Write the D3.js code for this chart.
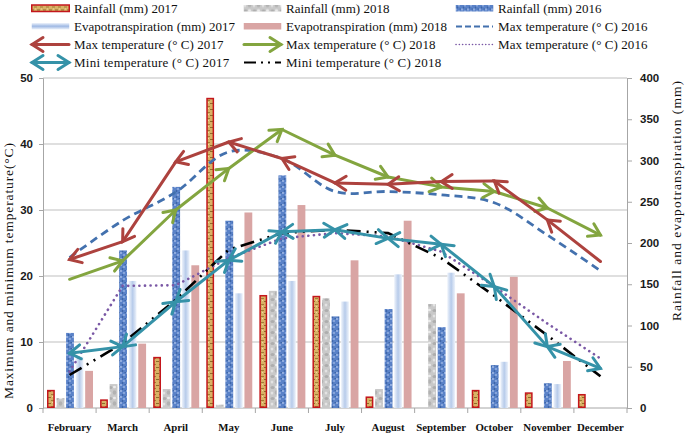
<!DOCTYPE html>
<html><head><meta charset="utf-8">
<script src="https://cdn.jsdelivr.net/npm/d3@7"></script>
<style>body{margin:0;background:#fff}svg{display:block}</style>
</head><body><script>
// ---------- DATA ----------
const months = ["February","March","April","May","June","July","August","September","October","November","December"];
const rain2017 = [22, 10.5, 62, 376, 137, 136, 14, 0, 22, 19, 17];
const rain2018 = [12, 29, 23, 4, 142, 133, 23, 126, 0, 0, 0];
const rain2016 = [91, 191, 268, 227, 282, 111, 120, 98, 52, 30, 0];
const et2017   = [62, 154, 191, 139, 154, 129, 162, 164, 56, 29, 0];
const et2018   = [45, 78, 173, 237, 246, 179, 227, 139, 159, 57, 0];
const max2017  = [22.5, 25.2, 37.3, 40.3, 37.8, 34.1, 33.9, 34.3, 34.4, 28.5, 22.2];
const max2018  = [19.5, 22.3, 30.0, 36.3, 42.2, 38.3, 35.0, 33.5, 32.8, 30.3, 26.2];
const max2016  = [22.8, 28.4, 32.7, 38.8, 37.8, 32.8, 32.8, 32.3, 31.1, 26.2, 20.8];
const max2016b = [5.5, 18.5, 18.6, 22.7, 25.7, 26.5, 26.0, 23.7, 18.4, 12.8, 7.5];
const min2017  = [8.3, 9.3, 16.1, 22.4, 26.7, 27.0, 25.7, 24.8, 18.4, 9.3, 6.0];
const min2018  = [5.0, 9.8, 16.4, 24.0, 26.5, 27.0, 26.5, 22.7, 17.0, 11.0, 4.8];
const leftTicks  = [0, 10, 20, 30, 40, 50];
const rightTicks = [0, 50, 100, 150, 200, 250, 300, 350, 400];

// ---------- SETUP ----------
const W = 685, H = 435;
const svg = d3.select("body").append("svg").attr("width", W).attr("height", H);
const defs = svg.append("defs");
const P = {left: 43, right: 627, top: 78, bottom: 408};
const x = d3.scaleBand().domain(months).range([P.left, P.right]);
const yT = d3.scaleLinear().domain([0, 50]).range([P.bottom, P.top]);
const yR = d3.scaleLinear().domain([0, 400]).range([P.bottom, P.top]);
const barKeys = ["r2017","r2018","r2016","et2017","et2018"];
const xs = d3.scaleBand().domain(barKeys).range([4, 50]).paddingInner(0.18);
const cx = m => x(m) + x.bandwidth() / 2;
const SERIF = "'Liberation Serif', 'Times New Roman', serif";

// patterns
function pat(id, w, h, bg, build) {
  const p = defs.append("pattern").attr("id", id).attr("patternUnits", "userSpaceOnUse")
    .attr("width", w).attr("height", h);
  p.append("rect").attr("width", w).attr("height", h).attr("fill", bg);
  build(p);
}
pat("pR17", 6, 6, "#D8B265", p => {
  p.append("rect").attr("x", 0).attr("y", 1).attr("width", 3).attr("height", 1).attr("fill", "#8E6B2A");
  p.append("rect").attr("x", 3).attr("y", 4).attr("width", 3).attr("height", 1).attr("fill", "#A27C35");
  p.append("rect").attr("x", 4).attr("y", 0).attr("width", 1).attr("height", 1).attr("fill", "#F0D9A0");
});
pat("pR18", 9, 11, "#C9C9C9", p => {
  p.append("ellipse").attr("cx", 2.5).attr("cy", 2.5).attr("rx", 2).attr("ry", 1.5).attr("fill", "#9B9B9B").attr("opacity", 0.6);
  p.append("ellipse").attr("cx", 6.5).attr("cy", 7.5).attr("rx", 1.8).attr("ry", 2.2).attr("fill", "#A3A3A3").attr("opacity", 0.6);
  p.append("ellipse").attr("cx", 6.5).attr("cy", 2).attr("rx", 1.5).attr("ry", 1.2).attr("fill", "#EFEFEF").attr("opacity", 0.9);
  p.append("ellipse").attr("cx", 2).attr("cy", 8).attr("rx", 1.3).attr("ry", 1.6).attr("fill", "#E6E6E6").attr("opacity", 0.9);
});
pat("pR16", 6, 6, "#5A82C8", p => {
  p.append("circle").attr("cx", 1).attr("cy", 1).attr("r", 0.9).attr("fill", "#A9C0EA");
  p.append("circle").attr("cx", 4).attr("cy", 3).attr("r", 0.9).attr("fill", "#9DB6E4");
  p.append("circle").attr("cx", 2.5).attr("cy", 5).attr("r", 0.8).attr("fill", "#2F5596");
  p.append("circle").attr("cx", 5.2).attr("cy", 0.5).attr("r", 0.7).attr("fill", "#36609F");
});
const g1 = defs.append("linearGradient").attr("id", "gET17").attr("x1", 0).attr("x2", 1).attr("y1", 0).attr("y2", 0);
[["0", "#EEF3FB"], ["0.5", "#B7CBEA"], ["1", "#EEF3FB"]].forEach(([o, c]) => g1.append("stop").attr("offset", o).attr("stop-color", c));
const g2 = defs.append("linearGradient").attr("id", "gET17L").attr("x1", 0).attr("x2", 0).attr("y1", 0).attr("y2", 1);
[["0", "#EEF3FB"], ["0.5", "#9FB9E4"], ["1", "#EEF3FB"]].forEach(([o, c]) => g2.append("stop").attr("offset", o).attr("stop-color", c));

// arrow markers
const colors = {red: "#AD423E", green: "#83A53F", teal: "#3592A8", blue: "#4371AE", purple: "#7A58A5"};
function marker(id, color) {
  defs.append("marker").attr("id", id).attr("viewBox", "-14 -10 17 20")
    .attr("refX", 0).attr("refY", 0).attr("markerWidth", 17).attr("markerHeight", 20)
    .attr("markerUnits", "userSpaceOnUse").attr("orient", "auto-start-reverse")
    .append("path").attr("d", "M-11,-7 L0,0 L-11,7").attr("fill", "none")
    .attr("stroke", color).attr("stroke-width", 3).attr("stroke-linecap", "round");
}
marker("aRed", colors.red); marker("aGreen", colors.green); marker("aTeal", colors.teal);

// ---------- GRID & AXES ----------
svg.append("g").selectAll("line").data(leftTicks.filter(d => d > 0)).join("line")
  .attr("x1", P.left).attr("x2", P.right).attr("y1", d => yT(d)).attr("y2", d => yT(d))
  .attr("stroke", "#BFBFBF").attr("stroke-width", 1);

const tickFont = g => g.selectAll("text").attr("font-family", "'Liberation Sans', Arial, sans-serif")
  .attr("font-size", 11.5).attr("font-weight", "bold").attr("fill", "#1a1a1a");
const axL = svg.append("g").attr("transform", `translate(${P.left},0)`)
  .call(d3.axisLeft(yT).tickValues(leftTicks).tickSize(4).tickPadding(6).tickFormat(d3.format("d")));
axL.selectAll("path,line").attr("stroke", "#A6A6A6"); tickFont(axL);
const axR = svg.append("g").attr("transform", `translate(${P.right},0)`)
  .call(d3.axisRight(yR).tickValues(rightTicks).tickSize(5).tickPadding(8).tickFormat(d3.format("d")));
axR.selectAll("path,line").attr("stroke", "#A6A6A6"); tickFont(axR);

// x axis
const xa = svg.append("g");
xa.append("line").attr("x1", P.left).attr("x2", P.right).attr("y1", P.bottom).attr("y2", P.bottom).attr("stroke", "#A6A6A6");
const bounds = months.map(m => x(m)).concat([x(months[months.length - 1]) + x.bandwidth()]);
xa.selectAll("line.t").data(bounds).join("line").attr("class", "t")
  .attr("x1", d => d).attr("x2", d => d).attr("y1", P.bottom).attr("y2", P.bottom + 5).attr("stroke", "#A6A6A6");
xa.selectAll("text").data(months).join("text")
  .attr("x", d => cx(d)).attr("y", 431).attr("text-anchor", "middle")
  .attr("font-family", SERIF).attr("font-weight", "bold")
  .attr("font-size", 10.8).attr("fill", "#111").text(d => d);

// axis titles
svg.append("text").attr("transform", `translate(13,271) rotate(-90)`)
  .attr("text-anchor", "middle").attr("font-family", SERIF)
  .attr("font-size", 13.5).attr("fill", "#111")
  .attr("textLength", 256).attr("lengthAdjust", "spacing")
  .text("Maximum and minimum temperature(°C)");
svg.append("text").attr("transform", `translate(681,201) rotate(-90)`)
  .attr("text-anchor", "middle").attr("font-family", SERIF)
  .attr("font-size", 13.5).attr("fill", "#111")
  .attr("textLength", 240).attr("lengthAdjust", "spacing")
  .text("Rainfall and evapotranspiration (mm)");

// ---------- BARS ----------
const barSeries = [
  {key: "r2017", vals: rain2017, fill: "url(#pR17)", stroke: "#C4161C"},
  {key: "r2018", vals: rain2018, fill: "url(#pR18)", stroke: null},
  {key: "r2016", vals: rain2016, fill: "url(#pR16)", stroke: null},
  {key: "et2017", vals: et2017, fill: "url(#gET17)", stroke: null},
  {key: "et2018", vals: et2018, fill: "#D9A5A4", stroke: null}
];
barSeries.forEach(s => {
  const sw = s.stroke ? 1.5 : 0;
  svg.append("g").selectAll("rect").data(months.map((m, i) => ({m, v: s.vals[i]})).filter(d => d.v > 0)).join("rect")
    .attr("x", d => x(d.m) + xs(s.key) + sw / 2)
    .attr("width", xs.bandwidth() - sw)
    .attr("y", d => yR(d.v) + sw / 2)
    .attr("height", d => Math.max(0, P.bottom - yR(d.v) - sw))
    .attr("fill", s.fill)
    .attr("stroke", s.stroke || "none").attr("stroke-width", sw);
});

// ---------- LINES ----------
const pts = vals => months.map((m, i) => [cx(m), yT(vals[i])]);
svg.append("path").attr("d", d3.line().curve(d3.curveCatmullRom.alpha(0.5))(pts(max2016)))
  .attr("fill", "none").attr("stroke", colors.blue).attr("stroke-width", 2.8).attr("stroke-dasharray", "8,5");
svg.append("path").attr("d", d3.line()(pts(max2016b)))
  .attr("fill", "none").attr("stroke", colors.purple).attr("stroke-width", 2.6)
  .attr("stroke-dasharray", "0.1,5.5").attr("stroke-linecap", "round");
svg.append("path").attr("d", d3.line()(pts(min2018)))
  .attr("fill", "none").attr("stroke", "#000").attr("stroke-width", 2.6)
  .attr("stroke-dasharray", "14,6,2,6,2,6");
function arrowLine(vals, color, mk, start, end) {
  const p = pts(vals);
  svg.append("g").selectAll("line").data(d3.pairs(p)).join("line")
    .attr("x1", d => d[0][0]).attr("y1", d => d[0][1]).attr("x2", d => d[1][0]).attr("y2", d => d[1][1])
    .attr("stroke", color).attr("stroke-width", 3).attr("stroke-linecap", "round")
    .attr("marker-start", start ? `url(#${mk})` : null)
    .attr("marker-end", end ? `url(#${mk})` : null);
}
arrowLine(min2017, colors.teal, "aTeal", true, true);
arrowLine(max2018, colors.green, "aGreen", false, true);
arrowLine(max2017, colors.red, "aRed", true, false);

// ---------- LEGEND ----------
const legendItems = [
  {label: "Rainfall (mm) 2017", type: "bar", fill: "url(#pR17)", stroke: "#C4161C"},
  {label: "Rainfall (mm) 2018", type: "bar", fill: "url(#pR18)"},
  {label: "Rainfall (mm) 2016", type: "bar", fill: "url(#pR16)"},
  {label: "Evapotranspiration (mm) 2017", type: "bar", fill: "url(#gET17L)"},
  {label: "Evapotranspiration (mm) 2018", type: "bar", fill: "#D9A5A4"},
  {label: "Max temperature (° C) 2016", type: "line", color: colors.blue, dash: "6,3"},
  {label: "Max temperature (° C) 2017", type: "line", color: colors.red, mk: "aRed", start: true},
  {label: "Max temperature (° C) 2018", type: "line", color: colors.green, mk: "aGreen", end: true},
  {label: "Max temperature (° C) 2016", type: "line", color: colors.purple, dash: "0.1,3.2", width: 1.6, cap: "round"},
  {label: "Mini temperature (° C) 2017", type: "line", color: colors.teal, mk: "aTeal", start: true, end: true},
  {label: "Mini temperature (° C) 2018", type: "line", color: "#000", dash: "12,5,2,5,2,5"}
];
const colX = [31, 243, 455], rowY = [8.5, 26.5, 44.5, 62.5], swW = 39;
const lg = svg.append("g");
legendItems.forEach((it, i) => {
  const gx = colX[i % 3], gy = rowY[Math.floor(i / 3)];
  const g = lg.append("g").attr("transform", `translate(${gx},${gy})`);
  if (it.type === "bar") {
    g.append("rect").attr("x", 0.75).attr("y", -3.5).attr("width", swW - 1.5).attr("height", 6.5)
      .attr("fill", it.fill).attr("stroke", it.stroke || "none").attr("stroke-width", it.stroke ? 1.5 : 0);
  } else {
    g.append("line").attr("x1", 1).attr("x2", swW - 1).attr("y1", 0).attr("y2", 0)
      .attr("stroke", it.color).attr("stroke-width", it.width || (it.mk ? 3 : 2.2))
      .attr("stroke-dasharray", it.dash || null).attr("stroke-linecap", it.cap || (it.mk ? "round" : "butt"))
      .attr("marker-start", it.start ? `url(#${it.mk})` : null)
      .attr("marker-end", it.end ? `url(#${it.mk})` : null);
  }
  const t = g.append("text").attr("x", swW + 4).attr("y", 4.5)
    .attr("font-family", SERIF).attr("font-size", 13)
    .attr("fill", "#111").text(it.label);
  const natural = t.node().getComputedTextLength();
  t.attr("textLength", Math.min(natural * 1.1, 5.75 * it.label.length)).attr("lengthAdjust", "spacing");
});
</script></body></html>
